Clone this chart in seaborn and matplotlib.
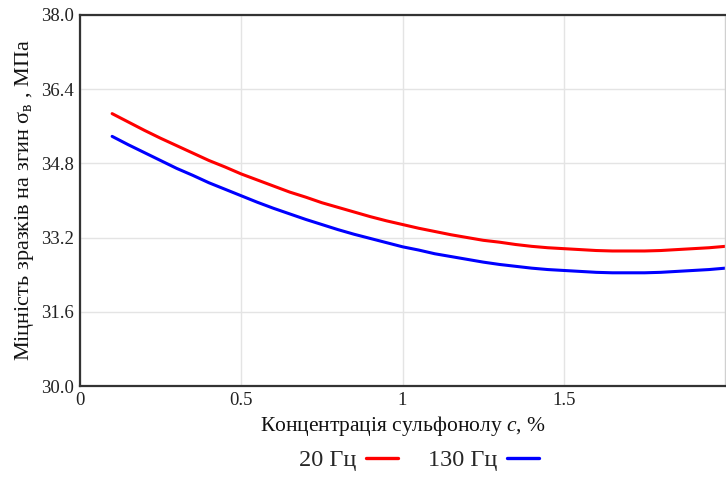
import matplotlib
matplotlib.use("Agg")
import matplotlib.pyplot as plt
import seaborn as sns
import pandas as pd

# Sulfonol concentration, %
concentration = [0.10, 0.15, 0.20, 0.25, 0.30, 0.35, 0.40, 0.45, 0.50, 0.55,
                 0.60, 0.65, 0.70, 0.75, 0.80, 0.85, 0.90, 0.95, 1.00, 1.05,
                 1.10, 1.15, 1.20, 1.25, 1.30, 1.35, 1.40, 1.45, 1.50, 1.55,
                 1.60, 1.65, 1.70, 1.75, 1.80, 1.85, 1.90, 1.95, 2.00]
# Bending strength, MPa
strength_20hz = [35.87, 35.69, 35.51, 35.34, 35.18, 35.02, 34.86, 34.72, 34.57, 34.44,
                 34.31, 34.18, 34.07, 33.95, 33.85, 33.75, 33.65, 33.56, 33.48, 33.40,
                 33.33, 33.26, 33.20, 33.14, 33.10, 33.05, 33.01, 32.98, 32.96, 32.94,
                 32.92, 32.91, 32.91, 32.91, 32.92, 32.94, 32.96, 32.98, 33.01]
strength_130hz = [35.38, 35.20, 35.03, 34.86, 34.69, 34.54, 34.38, 34.24, 34.10, 33.96,
                  33.83, 33.71, 33.59, 33.48, 33.37, 33.27, 33.18, 33.09, 33.00, 32.93,
                  32.85, 32.79, 32.73, 32.67, 32.62, 32.58, 32.54, 32.51, 32.49, 32.47,
                  32.45, 32.44, 32.44, 32.44, 32.45, 32.47, 32.49, 32.51, 32.54]
series_labels = ["20 Гц", "130 Гц"]
series_colors = ["#ff0000", "#0000ff"]

x_ticks = [0, 0.5, 1, 1.5]
x_tick_labels = ["0", "0.5", "1", "1.5"]
y_ticks = [30.0, 31.6, 33.2, 34.8, 36.4, 38.0]

df = pd.DataFrame({
    "c": concentration * 2,
    "sigma": strength_20hz + strength_130hz,
    "series": [series_labels[0]] * len(concentration) + [series_labels[1]] * len(concentration),
})

sns.set_theme(style="white")
plt.rcParams["font.family"] = ["Liberation Serif", "DejaVu Serif"]
plt.rcParams["mathtext.fontset"] = "custom"
plt.rcParams["mathtext.rm"] = "Liberation Serif"
plt.rcParams["mathtext.it"] = "Liberation Serif:italic"

fig = plt.figure(figsize=(7.26, 4.93), dpi=100)
ax = fig.add_axes([0.110, 0.217, 0.889, 0.753])

sns.lineplot(data=df, x="c", y="sigma", hue="series", palette=series_colors,
             hue_order=series_labels, linewidth=2.2, sort=False, ax=ax, legend=False)
for line in ax.get_lines():
    line.set_solid_joinstyle("round")

ax.set_xlim(0, 2)
ax.set_ylim(30, 38)
ax.set_xticks(x_ticks)
ax.set_xticklabels(x_tick_labels)
ax.set_yticks(y_ticks)
ax.set_yticklabels([f"{v:.1f}" for v in y_ticks])
ax.tick_params(axis="both", length=0, labelsize=13.5, colors="#222222", pad=4)
ax.grid(True, color="#e4e4e4", linewidth=1.0)

for side in ["left", "bottom", "top"]:
    ax.spines[side].set_color("#333333")
    ax.spines[side].set_linewidth(1.6)
ax.spines["right"].set_color("#d0d0d0")
ax.spines["right"].set_linewidth(1.0)

ax.set_xlabel(r"Концентрація сульфонолу $c$, $\%$", fontsize=15.5, color="#111111", labelpad=4)
ax.set_ylabel(r"Міцність зразків на згин σ$_{\mathrm{в}}$ , МПа", fontsize=16,
              color="#111111", labelpad=4)

handles = [plt.Line2D([], [], color=c, linewidth=2.4) for c in series_colors]
fig.legend(handles, series_labels, loc="center", bbox_to_anchor=(0.577, 0.066), ncol=2,
           frameon=False, markerfirst=False, fontsize=17.5, handlelength=1.3,
           columnspacing=1.25, handletextpad=0.4)

fig.savefig("out.png", dpi=100)
